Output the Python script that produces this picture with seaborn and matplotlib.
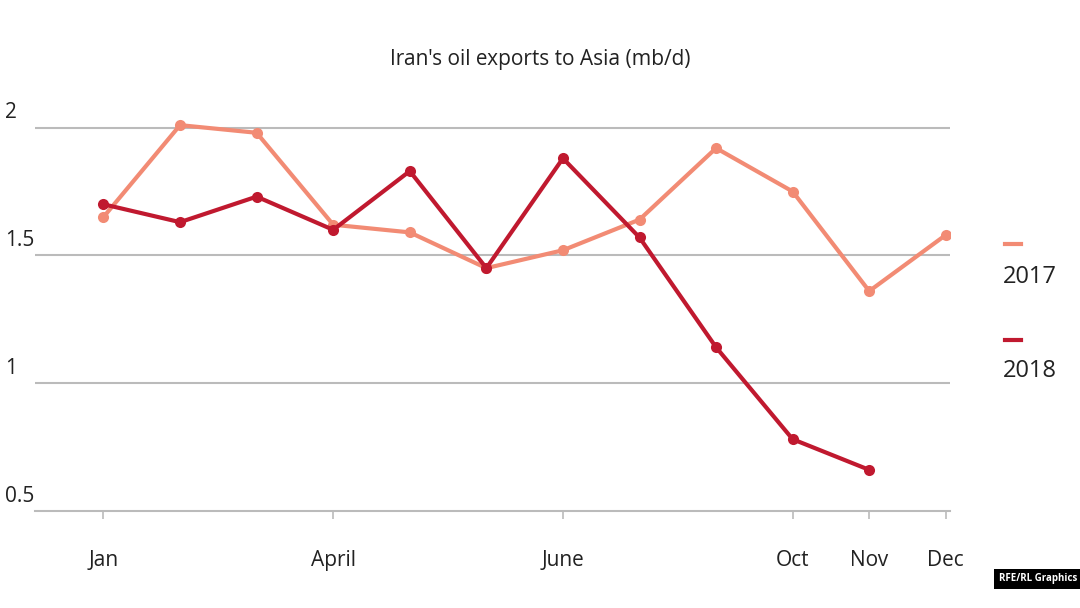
import matplotlib
matplotlib.use("Agg")
import matplotlib.pyplot as plt
import seaborn as sns
import pandas as pd

plt.rcParams["font.family"] = "Open Sans"

months_idx = list(range(12))
v2017 = [1.65, 2.01, 1.98, 1.62, 1.59, 1.45, 1.52, 1.64, 1.92, 1.75, 1.36, 1.58]
v2018 = [1.70, 1.63, 1.73, 1.60, 1.83, 1.45, 1.88, 1.57, 1.14, 0.78, 0.66]
tick_pos = [0, 3, 6, 9, 10, 11]
tick_labels = ["Jan", "April", "June", "Oct", "Nov", "Dec"]
c17, c18 = "#F28B74", "#C0192F"

df = pd.DataFrame({"m": months_idx[:len(v2017)] + months_idx[:len(v2018)],
                   "v": v2017 + v2018,
                   "year": ["2017"] * len(v2017) + ["2018"] * len(v2018)})

fig = plt.figure(figsize=(10.8, 6.08), dpi=100)
ax = fig.add_axes([0.032, 0.16, 0.848, 0.672])
sns.lineplot(data=df, x="m", y="v", hue="year", palette={"2017": c17, "2018": c18},
             marker="o", markersize=8, markeredgewidth=0, linewidth=3, ax=ax, legend=False)
ax.set_xlim(-0.9, 11.06)
ax.set_ylim(0.5, 2.1)
for g in [1.0, 1.5, 2.0]:
    ax.axhline(g, color="#bbbbbb", lw=1.5, zorder=0)
for s in ["top", "right", "left"]:
    ax.spines[s].set_visible(False)
ax.spines["bottom"].set_color("#bbbbbb")
ax.spines["bottom"].set_linewidth(1.5)
ax.set_yticks([])
for val, lab in [(2, "2"), (1.5, "1.5"), (1, "1"), (0.5, "0.5")]:
    fig.text(0.005, 1 - (511 - (val - 0.5) * 256 - 14) / 608, lab, fontsize=15, color="#222222",
             ha="left", va="center")
ax.set_xticks(tick_pos)
ax.set_xticklabels(tick_labels, fontsize=15, color="#222222")
ax.tick_params(axis="x", length=6, color="#bbbbbb", pad=22, width=1.2)
ax.set_xlabel(""); ax.set_ylabel("")
fig.text(0.5, 1 - 65 / 608, "Iran's oil exports to Asia (mb/d)", fontsize=15, ha="center", color="#222222")
fig.lines.append(plt.Line2D([0.931, 0.945], [1 - 244 / 608] * 2, color=c17, lw=3, transform=fig.transFigure))
fig.text(0.929, 1 - 277 / 608, "2017", fontsize=17, va="center", color="#222222")
fig.lines.append(plt.Line2D([0.931, 0.945], [1 - 340 / 608] * 2, color=c18, lw=3, transform=fig.transFigure))
fig.text(0.929, 1 - 371 / 608, "2018", fontsize=17, va="center", color="#222222")
fig.text(0.997, 1 - 579 / 608, "RFE/RL Graphics", fontsize=7, fontweight="bold", color="white",
         ha="right", va="center", bbox=dict(facecolor="black", edgecolor="none", pad=3))
fig.savefig("out.png", dpi=100, facecolor="white")
